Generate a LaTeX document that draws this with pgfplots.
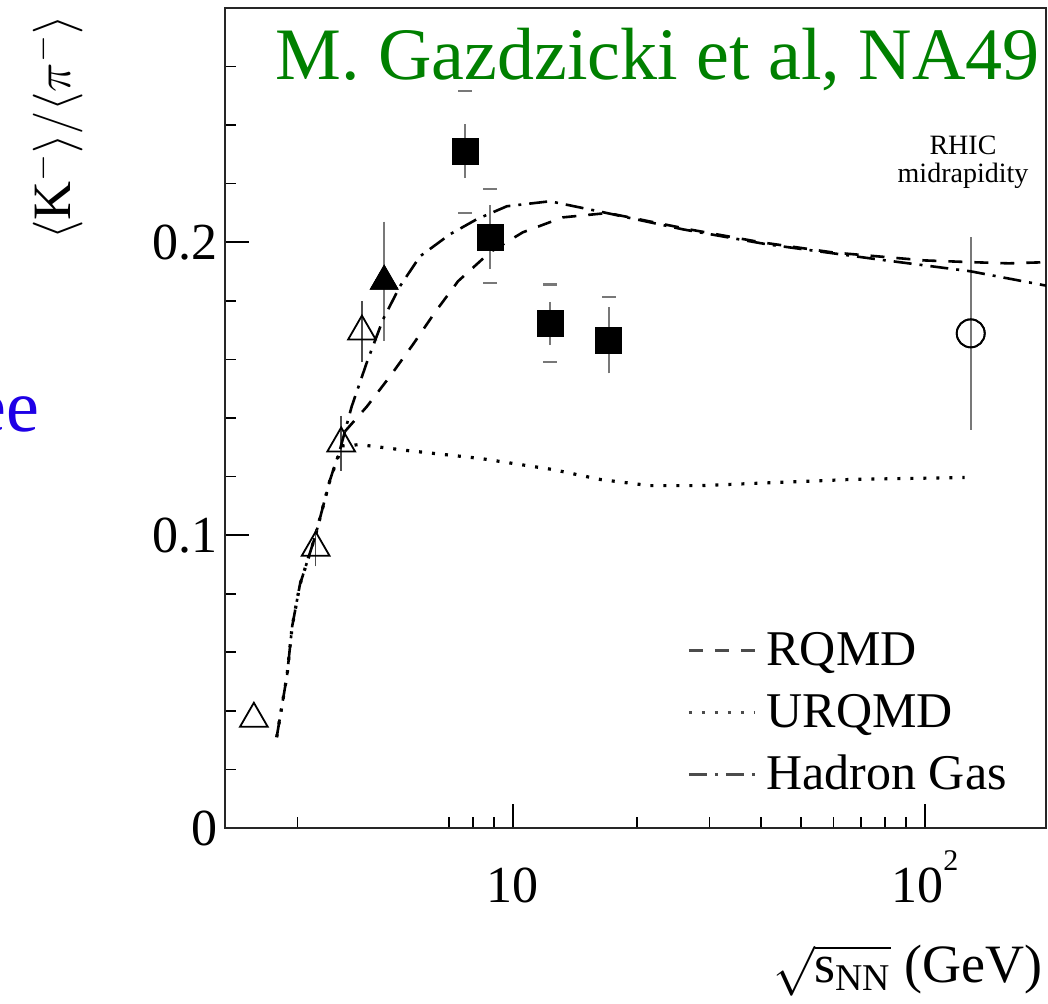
\documentclass[border=0pt]{standalone}
\usepackage{fontspec}
\setmainfont{Liberation Serif}
\usepackage{amsmath}
\usepackage{pgfplots}
\pgfplotsset{compat=1.18}
\definecolor{titlegreen}{RGB}{0,128,0}
\definecolor{seeblue}{RGB}{30,0,230}
\definecolor{errgray}{RGB}{120,120,120}

\pgfplotstableread{
x y
3.91 0.1354
4.42 0.1439
5.03 0.1542
5.72 0.1651
6.47 0.1761
7.36 0.1867
8.80 0.1966
10.57 0.2034
13.22 0.2085
17.0 0.2100
26.8 0.2044
40 0.2000
60 0.1965
100 0.1938
130 0.1932
160 0.1928
197 0.1932
}\rqmd

\pgfplotstableread{
x y
2.67 0.0310
2.83 0.0523
2.91 0.0687
3.04 0.0831
3.31 0.0995
3.60 0.1190
3.85 0.1305
4.25 0.1309
5.53 0.1289
8.32 0.1262
12.5 0.1224
16.3 0.1190
21.5 0.1169
28.4 0.1169
37.6 0.1176
65.8 0.1190
125 0.1197
}\urqmd

\pgfplotstableread{
x y
2.67 0.0310
2.83 0.0523
2.91 0.0687
3.04 0.0831
3.31 0.0995
3.60 0.1190
3.80 0.1290
4.06 0.1439
4.42 0.1590
4.84 0.1737
5.32 0.1850
5.95 0.1952
7.03 0.2027
8.18 0.2079
9.67 0.2123
12.3 0.2140
16.5 0.2103
25.9 0.2044
41.4 0.1993
76.5 0.1942
129 0.1901
197 0.1852
}\hgas

\pgfplotstableread{
x y e
7.65 0.2311 0.0068
8.80 0.2017 0.0085
12.3 0.1723 0.0050
17.1 0.1665 0.0089
}\squares

\pgfplotstableread{
x y
7.65 0.2516
7.65 0.2099
8.80 0.2181
8.80 0.1860
12.3 0.1856
12.3 0.1590
17.1 0.1812
}\syscaps

\pgfplotstableread{
x y e
3.32 0.0957 0.004
3.83 0.1313 0.007
4.30 0.1695 0.008
}\opentri

\pgfplotstableread{
x y
2.35 0.0373
}\opentrilow

\pgfplotstableread{
x y e
4.87 0.1867 0.018
}\filltri

\pgfplotstableread{
x y e
129.3 0.1689 0.0301
}\rhic

\begin{document}
\begin{tikzpicture}
\path[use as bounding box] (-112.5pt,-88pt) rectangle (411.5pt,414pt);
\begin{axis}[
  at={(0pt,0pt)}, anchor=south west,
  scale only axis, width=410.5pt, height=410pt,
  xmode=log, xmin=2, xmax=197, ymin=0, ymax=0.28,
  xtick={10,100},
  xticklabels={10,{10\raisebox{0.62em}{\fontsize{15}{15}\selectfont 2}}},
  minor xtick={3,7,8,9,20,30,40,50,60,70,80,90},
  ytick={0,0.1,0.2}, yticklabels={0,0.1,0.2},
  minor ytick={0.02,0.04,0.06,0.08,0.12,0.14,0.16,0.18,0.22,0.24,0.26},
  xtick pos=left, ytick pos=left,
  tick align=inside,
  major tick length=12pt, minor tick length=5.5pt,
  tick style={black, line width=0.8pt},
  axis line style={line width=0.9pt, black!85},
  ticklabel style={font=\fontsize{26}{26}\selectfont},
  xticklabel style={anchor=base, inner sep=0pt, yshift=-37.5pt},
  yticklabel style={anchor=east, inner sep=0pt, xshift=-3.5pt},
  legend cell align=left,
  legend style={at={(rel axis cs:0.5627,0.2427)}, anchor=north west,
    draw=none, fill=none, inner sep=0pt, row sep=7pt, column sep=5pt,
    font=\fontsize{25}{25}\selectfont,
    nodes={inner sep=0pt, text height=18pt, text depth=6pt}},
  legend image code/.code={\draw[#1, draw=black!70] (0pt,1.5pt) -- (33pt,1.5pt);},
  clip=true,
]
% systematic caps
\addplot[only marks, mark=-, mark size=3.5pt, errgray, mark options={line width=1.1pt}, forget plot]
  table[x=x, y=y] {\syscaps};
% NA49 squares with stat errors
\addplot[only marks, mark=square*, mark size=6.5pt, black, forget plot,
  error bars/.cd, y dir=both, y explicit,
  error bar style={errgray, line width=1pt},
  error mark options={errgray, line width=1pt, mark size=3.5pt}]
  table[x=x, y=y, y error=e] {\squares};
\addplot[only marks, mark=square*, mark size=6.5pt, black, forget plot]
  table[x=x, y=y] {\squares};
% open triangles
\addplot[only marks, mark=triangle, mark size=8pt, black, mark options={line width=0.9pt}, forget plot,
  error bars/.cd, y dir=both, y explicit,
  error bar style={black!70, line width=0.8pt},
  error mark options={black!70, line width=0.8pt, mark size=3.5pt}]
  table[x=x, y=y, y error=e] {\opentri};
\addplot[only marks, mark=triangle, mark size=8pt, black, mark options={line width=0.9pt}, forget plot]
  table[x=x, y=y] {\opentrilow};
% filled triangle
\addplot[only marks, mark=triangle*, mark size=8pt, black, forget plot,
  error bars/.cd, y dir=both, y explicit,
  error bar style={errgray, line width=1pt},
  error mark options={errgray, line width=1pt, mark size=3.5pt}]
  table[x=x, y=y, y error=e] {\filltri};
\addplot[only marks, mark=triangle*, mark size=8pt, black, forget plot]
  table[x=x, y=y] {\filltri};
% RHIC circle
\addplot[only marks, mark=o, mark size=7pt, black, mark options={line width=0.9pt, fill=white}, forget plot,
  error bars/.cd, y dir=both, y explicit,
  error bar style={errgray, line width=1pt},
  error mark options={errgray, line width=1pt, mark size=4pt}]
  table[x=x, y=y, y error=e] {\rhic};
\addplot[only marks, mark=o, mark size=7pt, black, mark options={line width=0.9pt, fill=white}, forget plot]
  table[x=x, y=y] {\rhic};
% model curves
\addplot[black, line width=1.3pt, dash pattern=on 7pt off 6pt] table[x=x, y=y] {\rqmd};
\addlegendentry{RQMD}
\addplot[black, line width=1.6pt, dash pattern=on 1.5pt off 5pt] table[x=x, y=y] {\urqmd};
\addlegendentry{URQMD}
\addplot[black, line width=1.3pt, dash pattern=on 9pt off 4pt on 1.5pt off 4pt] table[x=x, y=y] {\hgas};
\addlegendentry{Hadron Gas}
\end{axis}
\node[anchor=base west, text=titlegreen, font=\fontsize{37}{37}\selectfont, inner sep=0pt] at (25pt,374pt) {M. Gazdzicki et al, NA49};
\node[anchor=base east, text=seeblue, font=\fontsize{37}{37}\selectfont, inner sep=0pt] at (-92.5pt,198pt) {ee};
\node[anchor=base, font=\fontsize{14}{15}\selectfont, inner sep=0pt] at (369pt,336.5pt) {RHIC};
\node[anchor=base, font=\fontsize{14}{15}\selectfont, inner sep=0pt] at (369pt,322.5pt) {midrapidity};
\node[rotate=90, anchor=south east, inner sep=0pt, font=\fontsize{27}{27}\selectfont] at (-71pt,406.5pt) {$\langle\mathrm{K}^{-}\rangle/\langle\pi^{-}\rangle$};
\node[anchor=base east, inner sep=0pt, font=\fontsize{27}{27}\selectfont] at (409pt,-77.5pt) {$\sqrt{\text{s}_{\text{NN}}}$ (GeV)};
\end{tikzpicture}
\end{document}
